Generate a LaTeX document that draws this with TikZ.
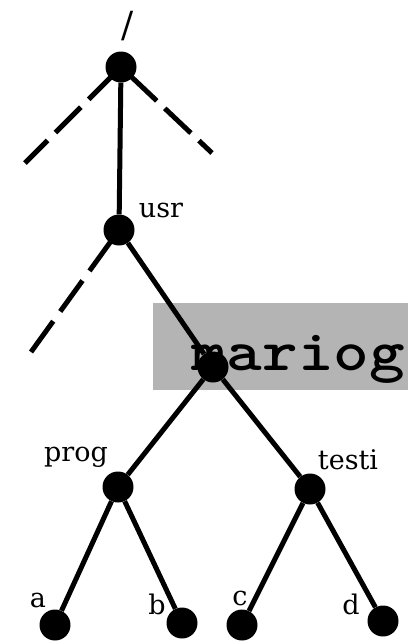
\documentclass[tikz,border=0pt]{standalone}
\usepackage{fontspec}
\usepackage{graphicx}
\newfontfamily\lblfont{DejaVu Serif}
\definecolor{boxgray}{RGB}{180,180,180}
\begin{document}
\begin{tikzpicture}[x=1pt,y=-1pt,
  dot/.style={circle,fill=black,inner sep=0pt,minimum size=31pt},
  edge/.style={line width=5pt},
  dashedge/.style={line width=5pt,dash pattern=on 36pt off 11pt},
  lbl/.style={font=\lblfont\fontsize{27}{27}\selectfont,inner sep=0pt}]
\useasboundingbox (0,0) rectangle (408,641);
\fill[boxgray] (153,303) rectangle (408,390);
% nodes
\node[dot] (root) at (121,67) {};
\node[dot] (usr) at (119,230) {};
\node[dot] (mar) at (213,367) {};
\node[dot] (prog) at (118,487) {};
\node[dot] (testi) at (310,489) {};
\node[dot] (a) at (55,625) {};
\node[dot] (b) at (182,623) {};
\node[dot] (c) at (242,625) {};
\node[dot] (d) at (383,621) {};
\coordinate (rl) at (25,163);
\coordinate (rr) at (212,153);
\coordinate (ul) at (31,352);
% edges
\draw[dashedge,dash phase=4pt] (rl) -- (root.center);
\draw[dashedge,dash phase=18pt] (rr) -- (root.center);
\draw[dashedge,dash pattern=on 38pt off 12pt] (ul) -- (usr.center);
\draw[edge] (root) -- (usr);
\draw[edge] (usr) -- (mar);
\draw[edge] (mar) -- (prog);
\draw[edge] (mar) -- (testi);
\draw[edge] (prog) -- (a);
\draw[edge] (prog) -- (b);
\draw[edge] (testi) -- (c);
\draw[edge] (testi) -- (d);
% labels
\node[font=\lblfont\fontsize{36}{36}\selectfont,inner sep=0pt] (slash) at (128,26) {/};
\node[lbl] (usrl) at (161,210) {usr};
\node[lbl] (progl) at (76,457) {prog};
\node[lbl] (testil) at (348,460) {testi};
\node[lbl] (al) at (38,600) {a};
\node[lbl] (bl) at (157,604) {b};
\node[lbl] (cl) at (240,598) {c};
\node[lbl] (dl) at (351,604) {d};
\node[font=\ttfamily\bfseries\fontsize{58}{58}\selectfont,inner sep=0pt,anchor=base west] (marl) at (191,370) {\scalebox{1.17}[1]{mariog}};
\end{tikzpicture}
\end{document}
